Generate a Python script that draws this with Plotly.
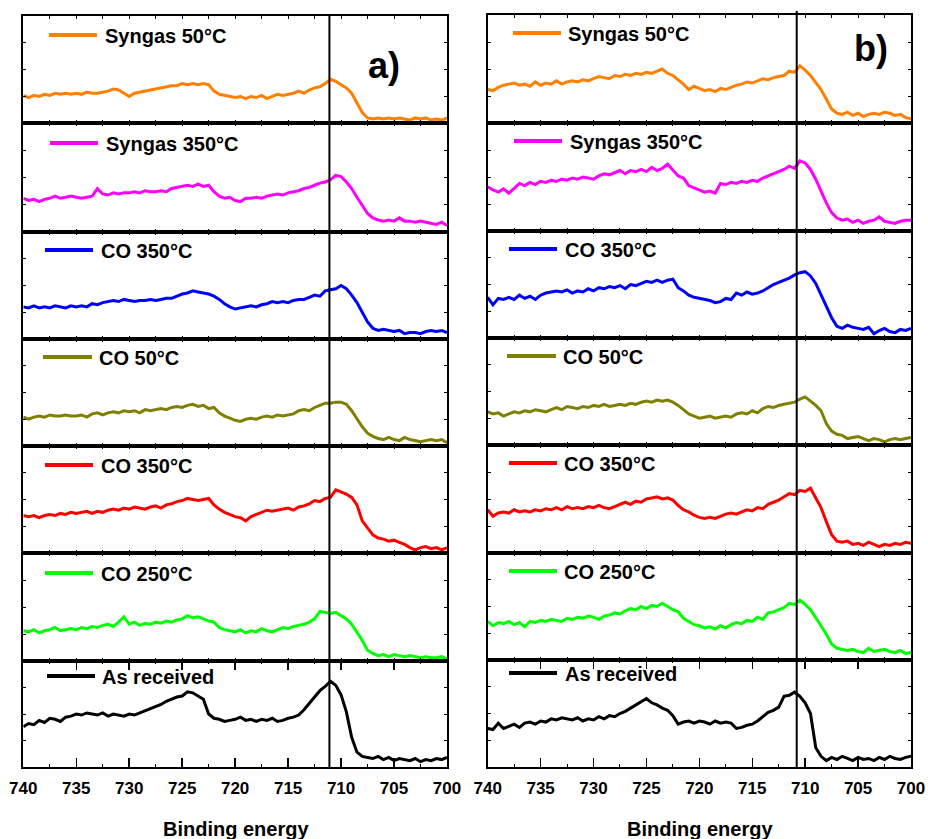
import plotly.graph_objects as go

W, H = 928, 839

# ---------------- data ----------------
energy = [740 - 0.5 * i for i in range(81)]  # binding energy grid (eV)
tick_vals = [740, 735, 730, 725, 720, 715, 710, 705, 700]
tick_text = ["740", "735", "730", "725", "720", "715", "710", "705", "700"]
labels = ["Syngas 50°C", "Syngas 350°C", "CO 350°C", "CO 50°C", "CO 350°C", "CO 250°C", "As received"]
panel_labels = ["a)", "b)"]
ref_energy = [711.1, 710.8]

# panel a)
syngas50_a = [26,24,26,25,27,26,28,27,28,27, 28,27,29,28,28,29,30,32,31,28,
              25,28,29,30,31,32,33,34,35,35, 37,36,37,36,37,36,30,27,26,25,
              24,25,23,25,24,26,23,25,27,26, 27,28,30,28,31,33,34,37,41,39,
              36,33,28,19,10,5,4,5,4,5, 4,5,4,3,5,4,5,3,4,3, 5]
syngas350_a = [31,29,30,28,30,31,33,31,32,33, 32,31,32,33,40,35,34,36,35,36,
               36,37,36,38,37,37,38,37,40,41, 42,43,42,44,42,43,37,33,31,32,
               29,28,31,31,32,31,33,34,35,34, 36,37,38,40,41,43,45,46,48,52,
               51,46,40,32,24,17,13,11,10,11, 10,13,10,10,9,10,9,8,7,9, 6]
co350b_a = [30,29,31,29,30,29,31,30,29,31, 30,31,30,33,32,34,35,36,35,37,
            36,35,36,36,37,36,37,38,38,40, 42,43,45,44,43,42,40,37,33,30,
            28,29,30,31,30,32,33,35,34,35, 34,36,37,37,39,41,40,45,46,47,
            50,47,41,34,25,16,10,8,9,8, 7,8,5,6,6,5,7,8,7,8, 6]
co50_a = [27,25,27,28,27,29,28,28,29,28, 28,29,27,30,31,29,31,32,31,33,
          32,33,31,34,33,34,35,34,36,37, 36,38,39,37,38,35,36,31,28,26,
          24,23,25,26,25,27,28,27,29,28, 29,30,33,34,33,36,38,40,40,41,
          41,39,33,25,18,12,9,7,6,8, 6,5,8,6,5,4,5,6,5,6, 3]
co350r_a = [35,34,35,33,35,36,35,37,36,38, 37,38,39,37,39,38,40,41,40,42,
            41,43,42,41,43,44,42,45,46,48, 49,51,50,49,50,51,45,41,38,36,
            34,33,30,34,36,38,40,39,40,41, 42,40,43,44,46,49,48,51,52,59,
            57,55,52,45,30,24,17,14,13,11, 12,10,8,5,3,5,6,4,5,3, 5]
co250_a = [28,27,29,26,28,29,31,28,29,30, 29,31,30,32,31,33,34,32,36,41,
           34,36,33,35,34,36,35,37,36,38, 39,42,40,41,39,37,36,31,29,28,
           27,29,26,28,27,30,28,27,29,31, 30,32,33,34,36,39,46,45,44,45,
           42,39,34,27,19,10,7,5,6,4, 6,5,4,5,4,3,4,3,3,4, 2]
asrec_a = [38,41,40,44,42,46,45,43,47,48, 50,49,51,50,49,51,48,50,49,48,
           50,49,51,53,55,57,59,62,64,66, 67,71,70,67,64,50,46,45,43,44,
           45,47,44,45,43,45,44,46,43,44, 46,47,49,54,60,66,72,76,81,77,
           68,52,28,14,10,9,8,10,7,9, 6,8,7,6,8,5,7,6,8,7, 9]

# panel b)
syngas50_b = [31,30,33,35,36,37,35,36,34,38, 35,37,36,39,36,38,39,38,40,39,
              41,43,42,41,44,43,45,44,46,45, 47,46,48,50,46,44,40,36,31,34,
              32,30,31,29,32,31,33,35,36,38, 37,39,41,40,42,43,44,48,47,53,
              49,44,38,31,22,13,9,8,10,7, 9,6,8,9,8,10,9,7,8,5, 4]
syngas350_b = [41,38,36,39,35,40,44,42,45,43, 46,45,47,46,48,47,49,48,50,49,
               48,51,53,52,54,56,53,56,55,57, 55,59,56,58,62,56,51,49,42,40,
               38,36,37,35,44,43,45,44,46,45, 47,46,49,51,53,55,57,60,58,65,
               63,57,48,37,26,17,12,10,11,8, 10,7,9,10,13,9,8,7,9,10, 10]
co350b_b = [38,31,37,36,38,36,40,37,39,36, 40,42,43,44,43,45,42,44,43,46,
            44,47,46,48,47,49,46,50,49,51, 53,52,54,52,54,55,47,44,40,38,
            37,36,35,33,34,37,36,42,40,43, 41,42,44,47,50,52,54,56,59,61,
            62,58,51,40,30,19,11,9,12,10, 9,8,10,4,7,9,6,5,8,7, 9]
co50_b = [31,29,30,27,29,31,30,32,31,33, 32,31,33,35,33,36,35,34,36,35,
          37,36,38,36,37,38,37,39,38,40, 41,40,42,41,42,40,37,33,29,27,
          25,26,27,25,26,27,26,29,30,29, 32,30,34,36,35,37,38,39,40,43,
          45,41,37,32,20,13,10,9,6,7, 8,6,4,6,5,3,5,6,5,6, 7]
co350r_b = [40,34,37,38,37,40,38,39,38,40, 39,41,40,42,40,43,41,42,41,43,
            42,44,42,41,43,45,47,45,48,47, 50,51,52,50,51,49,44,40,38,35,
            33,32,33,32,34,36,37,36,38,40, 39,42,41,45,47,49,52,55,54,58,
            57,60,51,42,29,17,11,10,11,8, 9,7,10,8,6,8,7,9,8,10, 9]
co250_b = [36,32,35,34,36,33,35,31,36,35, 37,36,38,37,36,39,38,40,39,41,
           40,38,41,42,44,43,46,48,47,50, 48,51,50,53,50,47,45,39,36,33,
           32,30,31,29,32,30,33,35,34,37, 36,40,38,44,45,47,49,53,52,56,
           52,47,40,32,24,15,11,10,9,10, 8,7,11,8,9,10,8,7,9,6, 7]
asrec_b = [36,35,41,36,38,40,37,41,42,40, 43,42,45,44,46,45,44,46,43,45,
           44,47,45,48,47,50,52,55,58,61, 64,60,58,55,53,48,40,42,43,41,
           43,42,40,43,41,42,41,36,37,39, 40,43,47,51,53,56,66,67,70,66,
           60,50,18,10,6,9,7,10,8,6, 9,7,8,6,9,7,10,8,7,9, 10]

series_a = [syngas50_a, syngas350_a, co350b_a, co50_a, co350r_a, co250_a, asrec_a]
series_b = [syngas50_b, syngas350_b, co350b_b, co50_b, co350r_b, co250_b, asrec_b]
panels = [series_a, series_b]

# ---------------- styling / layout ----------------
colors = ["#FF8000", "#FF00FF", "#0000FF", "#808000", "#FF0000", "#00FF00", "#000000"]
FONT = "Liberation Sans, Arial, sans-serif"

def fx(px):
    return px / W

def fy(py):
    return 1 - py / H

x_px = [(23.3, 447.0), (487.7, 911.0)]
y_bounds = [[16, 123.3, 232, 339, 446, 553, 661, 767],
            [15, 123, 231, 338, 445, 553, 660, 767]]
# legend sample positions (line x0, x1, y centre, text x)
leg_pos = [
    [(49, 97, 35, 103), (50, 98, 143, 104), (45, 93, 250, 99), (43, 92, 357, 97),
     (45, 93, 465, 99), (45, 93, 573, 99), (47, 95, 676, 100)],
    [(513, 561, 33, 566), (514, 562, 141, 568), (509, 557, 249, 563), (507, 556, 356, 561),
     (509, 557, 463, 562), (509, 557, 571, 562), (509, 557, 673, 563)],
]
panel_label_pos = [(384, 66), (871, 49)]
xtitle_x = [236, 700]

fig = go.Figure()
layout = dict(width=W, height=H, margin=dict(l=0, r=0, t=0, b=0, autoexpand=False),
              paper_bgcolor="white", plot_bgcolor="white", showlegend=False)
shapes, annotations = [], []

for p in range(2):
    for r in range(7):
        k = p * 7 + r + 1
        sfx = "" if k == 1 else str(k)
        fig.add_trace(go.Scatter(x=energy, y=panels[p][r], mode="lines",
                                 line=dict(color=colors[r], width=3),
                                 xaxis="x" + sfx, yaxis="y" + sfx,
                                 hoverinfo="skip"))
        xa = dict(domain=[fx(x_px[p][0]), fx(x_px[p][1])], range=[740, 700],
                  anchor="y" + sfx, automargin=False,
                  showline=True, linewidth=2, linecolor="black",
                  mirror="ticks", ticks="inside", tickcolor="black",
                  showgrid=False, zeroline=False, fixedrange=True)
        if r == 6:
            xa.update(tickmode="array", tickvals=tick_vals, ticktext=tick_text,
                      ticklen=9, tickwidth=1.5, showticklabels=True,
                      ticklabelstandoff=5,
                      tickfont=dict(family=FONT, size=17, color="black", weight="bold"),
                      minor=dict(ticks="inside", ticklen=3, tickwidth=1, tickcolor="black",
                                 tickvals=[v - 2.5 for v in tick_vals[:-1]]))
        else:
            xa.update(tickmode="linear", tick0=700, dtick=2.5, ticklen=3, tickwidth=1,
                      showticklabels=False)
        ya = dict(domain=[fy(y_bounds[p][r + 1]), fy(y_bounds[p][r])], range=[0, 100],
                  anchor="x" + sfx, automargin=False,
                  showline=True, linewidth=2, linecolor="black",
                  mirror="ticks", ticks="inside", ticklen=3, tickwidth=1, tickcolor="black",
                  tickmode="linear", tick0=0, dtick=25,
                  showticklabels=False, showgrid=False, zeroline=False, fixedrange=True)
        layout["xaxis" + sfx] = xa
        layout["yaxis" + sfx] = ya

        lx0, lx1, ly, tx = leg_pos[p][r]
        shapes.append(dict(type="line", xref="paper", yref="paper",
                           x0=fx(lx0), x1=fx(lx1), y0=fy(ly), y1=fy(ly),
                           line=dict(color=colors[r], width=4)))
        annotations.append(dict(text=labels[r], xref="paper", yref="paper",
                                x=fx(tx), y=fy(ly + 1), xanchor="left", yanchor="middle",
                                showarrow=False,
                                font=dict(family=FONT, size=20, color="black", weight="bold")))

    bottom_sfx = str(p * 7 + 7)
    shapes.append(dict(type="line", xref="x" + bottom_sfx, yref="paper",
                       x0=ref_energy[p], x1=ref_energy[p],
                       y0=fy(y_bounds[p][7]), y1=fy(y_bounds[p][0] - (4 if p == 1 else 0)),
                       line=dict(color="black", width=2)))
    annotations.append(dict(text=panel_labels[p], xref="paper", yref="paper",
                            x=fx(panel_label_pos[p][0]), y=fy(panel_label_pos[p][1]),
                            xanchor="center", yanchor="middle", showarrow=False,
                            font=dict(family=FONT, size=36, color="black", weight="bold")))
    annotations.append(dict(text="Binding energy", xref="paper", yref="paper",
                            x=fx(xtitle_x[p]), y=fy(829), xanchor="center", yanchor="middle",
                            showarrow=False,
                            font=dict(family=FONT, size=20, color="black", weight="bold")))

layout["shapes"] = shapes
layout["annotations"] = annotations
fig.update_layout(**layout)
fig.write_html(
    "out.html",
    config={"displayModeBar": False, "staticPlot": True},
    post_script="document.body.style.margin='0';"
                "document.documentElement.style.overflow='hidden';"
                "document.body.style.overflow='hidden';",
)
